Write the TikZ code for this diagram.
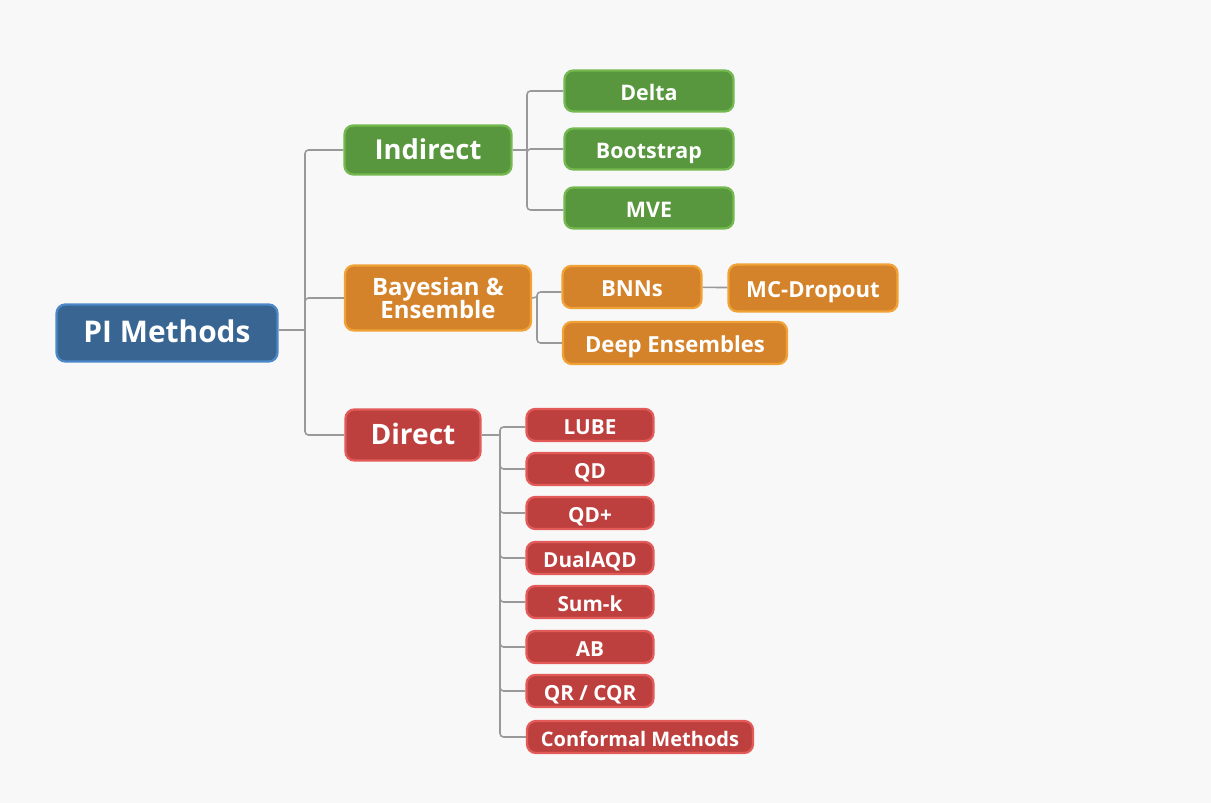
\documentclass[tikz,border=0pt]{standalone}
\usepackage{fontspec}
\setmainfont{Open Sans}
\usepackage{xcolor}
\usetikzlibrary{positioning}
\definecolor{bgcol}{HTML}{F8F8F8}
\definecolor{linegray}{HTML}{999999}
\definecolor{bluefill}{HTML}{386592}
\definecolor{blueline}{HTML}{4C88C8}
\definecolor{greenfill}{HTML}{58973D}
\definecolor{greenline}{HTML}{74B94F}
\definecolor{orangefill}{HTML}{D5832B}
\definecolor{orangeline}{HTML}{F0A236}
\definecolor{redfill}{HTML}{BD403F}
\definecolor{redline}{HTML}{E35B59}

\tikzset{
  box/.style={rounded corners=5pt, line width=1.3pt, text=white, align=center, inner sep=0pt},
  mid/.style={text height=1.25em, text depth=0.19em},
  rootbox/.style={box, mid, fill=bluefill, draw=blueline, minimum width=4.42cm, minimum height=1.14cm,
    font=\fontsize{17}{20}\selectfont\bfseries},
  greenbox/.style={box, mid, fill=greenfill, draw=greenline, minimum width=3.38cm, minimum height=0.82cm,
    font=\fontsize{12.2}{14}\selectfont\bfseries},
  orangebox/.style={box, mid, fill=orangefill, draw=orangeline, minimum height=0.84cm,
    font=\fontsize{12.6}{14}\selectfont\bfseries},
  redbox/.style={box, mid, fill=redfill, draw=redline, minimum width=2.54cm, minimum height=0.64cm,
    font=\fontsize{11.8}{14}\selectfont\bfseries},
  link/.style={draw=linegray, line width=0.9pt, rounded corners=2pt},
}

\begin{document}
\begin{tikzpicture}[x=0.02cm, y=-0.02cm]
\useasboundingbox[fill=bgcol] (0,0) rectangle (1211,803);

\node[rootbox](pi) at (167,333) {PI Methods};

\node[greenbox, minimum width=3.34cm, minimum height=0.98cm, font=\fontsize{15.6}{18}\selectfont\bfseries](ind) at (428,150) {Indirect};
\node[box, fill=orangefill, draw=orangeline, minimum width=3.72cm, minimum height=1.30cm, font=\fontsize{13.6}{13.6}\selectfont\bfseries](bay) at (438,298) {Bayesian \&\\Ensemble};
\node[redbox, minimum width=2.70cm, minimum height=1.02cm, font=\fontsize{16}{18}\selectfont\bfseries](dir) at (413,435) {Direct};

\node[greenbox](delta) at (649,91) {Delta};
\node[greenbox](boot) at (649,149) {Bootstrap};
\node[greenbox](mve) at (649,208) {MVE};

\node[orangebox, minimum width=2.78cm](bnn) at (632,287) {BNNs};
\node[orangebox, minimum width=3.38cm, minimum height=0.94cm](mcd) at (813,288) {MC-Dropout};
\node[orangebox, minimum width=4.48cm](deep) at (675,343) {Deep Ensembles};

\node[redbox](lube) at (590,425) {LUBE};
\node[redbox](qd) at (590,469) {QD};
\node[redbox](qdp) at (590,513) {QD+};
\node[redbox](dual) at (590,558) {DualAQD};
\node[redbox](sumk) at (590,602) {Sum-k};
\node[redbox](ab) at (590,647) {AB};
\node[redbox](qr) at (590,691) {QR / CQR};
\node[redbox, minimum width=4.52cm, font=\fontsize{11.4}{14}\selectfont\bfseries](conf) at (640,737) {Conformal Methods};

\coordinate (t0) at (305,330);
\coordinate (t1) at (527,150);
\coordinate (t2) at (537,297);
\coordinate (t3) at (500,435);

\draw[link] (pi.east |- t0) -- (t0);
\draw[link] (t0) |- (ind.west);
\draw[link] (t0) |- (bay.west);
\draw[link] (t0) |- (dir.west);

\draw[link] (ind.east) -- (t1);
\draw[link] (t1) |- (delta.west);
\draw[link] (t1) |- (boot.west);
\draw[link] (t1) |- ([yshift=-0.04cm]mve.west);

\draw[link] (bay.east) -- (t2);
\draw[link] (t2) |- ([yshift=-0.1cm]bnn.west);
\draw[link] (t2) |- (deep.west);
\draw[link] (bnn) -- (mcd);

\draw[link] (dir.east) -- (t3);
\draw[link] (t3) |- ([yshift=-0.04cm]lube.west);
\foreach \n in {qd,qdp,dual,sumk,ab,qr,conf}
  \draw[link] (t3) |- (\n.west);
\end{tikzpicture}
\end{document}
